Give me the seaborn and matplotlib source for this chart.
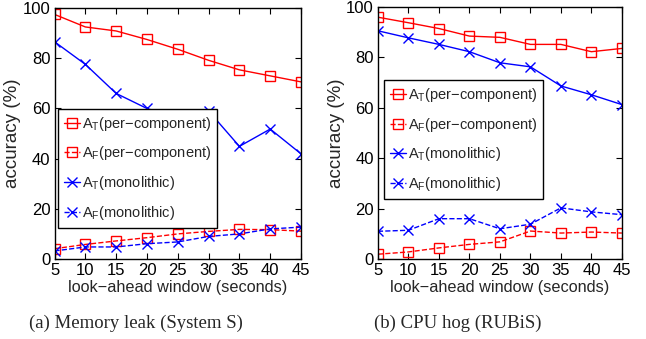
import matplotlib
matplotlib.use("Agg")
import matplotlib.pyplot as plt
import seaborn as sns

# look-ahead window (seconds)
windows = [5, 10, 15, 20, 25, 30, 35, 40, 45]

# (a) Memory leak (System S)
mem_at_comp = [97.5, 92.5, 90.9, 87.5, 83.6, 79.2, 75.4, 73.0, 70.6]
mem_af_comp = [4.1, 5.8, 7.2, 8.5, 10.0, 11.0, 11.8, 11.7, 11.1]
mem_at_mono = [86.6, 77.6, 66.0, 60.0, 56.0, 59.0, 44.9, 51.8, 41.9]
mem_af_mono = [3.2, 4.8, 4.8, 6.1, 6.8, 9.0, 10.0, 12.0, 12.7]

# (b) CPU hog (RUBiS)
cpu_at_comp = [96.0, 93.8, 91.5, 88.5, 88.0, 85.2, 85.2, 82.3, 83.6]
cpu_af_comp = [1.9, 2.8, 4.4, 5.8, 6.8, 11.1, 10.3, 10.7, 10.3]
cpu_at_mono = [90.6, 87.8, 85.2, 82.3, 77.9, 76.3, 68.7, 65.2, 61.3]
cpu_af_mono = [11.0, 11.4, 16.0, 16.0, 12.0, 13.8, 20.3, 18.7, 17.6]

labels = [r"$\mathregular{A_T}$(per−component)",
          r"$\mathregular{A_F}$(per−component)",
          r"$\mathregular{A_T}$(monolithic)",
          r"$\mathregular{A_F}$(monolithic)"]
captions = ["(a) Memory leak (System S)", "(b) CPU hog (RUBiS)"]

sns.set_style("ticks")
plt.rcParams["font.family"] = ["Liberation Sans", "DejaVu Sans"]
plt.rcParams["mathtext.fontset"] = "custom"
plt.rcParams["mathtext.rm"] = "Liberation Sans"

fig = plt.figure(figsize=(6.46, 3.39), dpi=100)
ax1 = fig.add_axes([0.0844, 0.236, 0.3816, 0.740])
ax2 = fig.add_axes([0.585, 0.236, 0.3777, 0.743])

styles = [("red", "s", "-"), ("red", "s", "--"), ("blue", "x", "-"), ("blue", "x", "--")]

def draw(ax, series, leg_anchor):
    for vals, (c, m, ls), lab in zip(series, styles, labels):
        sns.lineplot(x=windows, y=vals, ax=ax, color=c, marker=m, linestyle=ls,
                     markersize=7, markerfacecolor="none", markeredgecolor=c,
                     markeredgewidth=1.0, linewidth=1.0, label=lab)
    ax.set_xlim(5, 45)
    ax.set_ylim(0, 100)
    ax.set_xticks(windows)
    ax.set_yticks([0, 20, 40, 60, 80, 100])
    ax.tick_params(direction="in", top=True, right=True, length=4, width=0.8,
                   labelsize=12, pad=3, colors="black")
    for s in ax.spines.values():
        s.set_color("black")
        s.set_linewidth(1.0)
    ax.set_xlabel("look−ahead window (seconds)", fontsize=11.7, labelpad=1.5)
    ax.set_ylabel("accuracy (%)", fontsize=13.5, labelpad=1)
    leg = ax.legend(loc="upper left", bbox_to_anchor=leg_anchor, borderaxespad=0,
                    fontsize=10.5, handlelength=1.1, handletextpad=0.15,
                    labelspacing=0.8, borderpad=0.4, fancybox=False,
                    framealpha=1, edgecolor="black")
    leg.get_frame().set_linewidth(1.0)

draw(ax1, [mem_at_comp, mem_af_comp, mem_at_mono, mem_af_mono], (0.014, 0.598))
draw(ax2, [cpu_at_comp, cpu_af_comp, cpu_at_mono, cpu_af_mono], (0.025, 0.71))

fig.text(136 / 646, 1 - 323 / 339, captions[0], family="Liberation Serif",
         fontsize=13.5, ha="center", va="center")
fig.text(458 / 646, 1 - 323 / 339, captions[1], family="Liberation Serif",
         fontsize=13.5, ha="center", va="center")

fig.savefig("out.png", dpi=100)
